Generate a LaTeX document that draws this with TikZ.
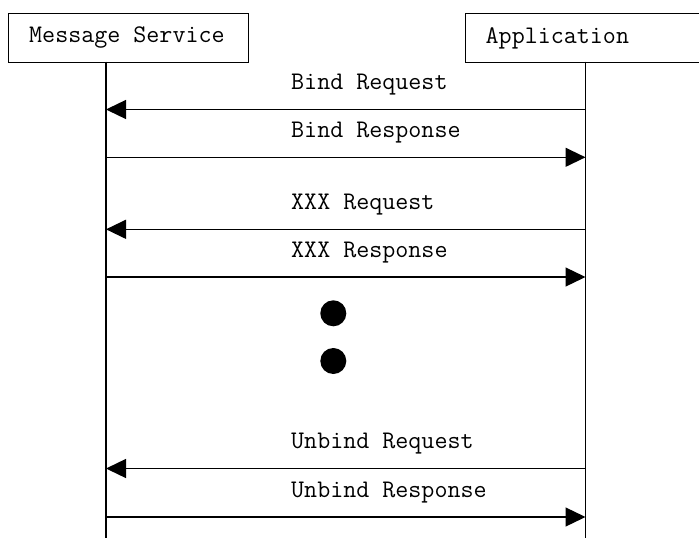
\documentclass[tikz,border=0pt]{standalone}
\usepackage{fontspec}
\usetikzlibrary{arrows.meta}
\tikzset{
  actorbox/.style={draw=black, line width=1.3pt, fill=white, inner sep=0pt},
  actorlabel/.style={anchor=base west, inner sep=0pt, font=\fontsize{25.3}{29}\selectfont\ttfamily},
  msglabel/.style={anchor=base west, inner sep=0pt, font=\fontsize{25.3}{29}\selectfont\ttfamily},
  lifeline/.style={draw=black, line width=1.3pt},
  msg/.style={draw=black, line width=1.3pt, -{Triangle[length=20pt,width=19pt]}, shorten >=0pt},
  dot/.style={circle, fill=black, minimum size=26pt, inner sep=0pt},
}
\begin{document}
\begin{tikzpicture}[x=1pt,y=-1pt]
\useasboundingbox (0,0) rectangle (699,538);
\clip (0,0) rectangle (699,538);
\fill[white] (0,0) rectangle (699,538);
% actor boxes
\node[actorbox, minimum width=240pt, minimum height=48.7pt, anchor=north west] (ms) at (8,13) {};
\node[actorbox, minimum width=240pt, minimum height=48.7pt, anchor=north west] (app) at (465,13) {};
\node[actorlabel] (mslabel) at (29,42.5) {Message Service};
\node[actorlabel] (applabel) at (485.5,43) {Application};
% lifelines
\coordinate (msTop) at (106,61.7);
\coordinate (msBot) at (106,545);
\coordinate (appTop) at (585.5,61.7);
\coordinate (appBot) at (585.5,545);
\draw[lifeline] (msTop) -- (msBot);
\draw[lifeline] (appTop) -- (appBot);
% message endpoints
\foreach \i/\y in {1/109.5, 2/157.3, 3/229.3, 4/277, 5/468.5, 6/517}{
  \coordinate (L\i) at (106,\y);
  \coordinate (R\i) at (585.5,\y);
}
\draw[msg] (R1) -- (L1);
\draw[msg] (L2) -- (R2);
\draw[msg] (R3) -- (L3);
\draw[msg] (L4) -- (R4);
\draw[msg] (R5) -- (L5);
\draw[msg] (L6) -- (R6);
% labels
\node[msglabel] (t1) at (291,89.5) {Bind Request};
\node[msglabel] (t2) at (291,137.5) {Bind Response};
\node[msglabel] (t3) at (291,209.3) {XXX Request};
\node[msglabel] (t4) at (291,257) {XXX Response};
\node[msglabel] (t5) at (291,448.5) {Unbind Request};
\node[msglabel] (t6) at (291,497) {Unbind Response};
% ellipsis dots
\node[dot] (d1) at (333.3,313.3) {};
\node[dot] (d2) at (333.3,361) {};
\end{tikzpicture}
\end{document}
